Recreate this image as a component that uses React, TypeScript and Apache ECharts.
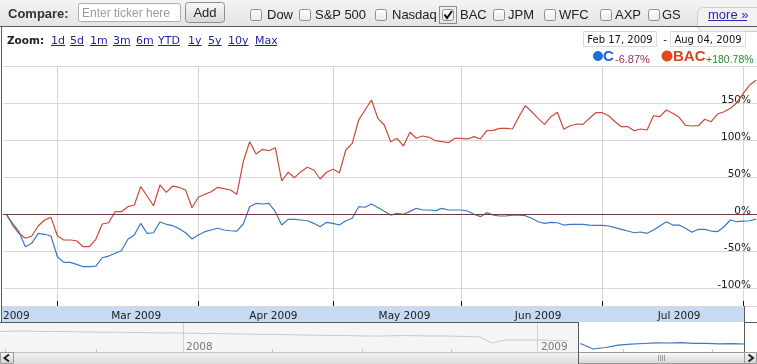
import React, { useEffect, useRef } from 'react';
import * as echarts from 'echarts';

// Trading days shown (Feb 17, 2009 – Aug 04, 2009)
const dates = [
  '2009-02-17', '2009-02-18', '2009-02-19', '2009-02-20', '2009-02-23', '2009-02-24', '2009-02-25', '2009-02-26', '2009-02-27',
  '2009-03-02', '2009-03-03', '2009-03-04', '2009-03-05', '2009-03-06', '2009-03-09', '2009-03-10', '2009-03-11', '2009-03-12',
  '2009-03-13', '2009-03-16', '2009-03-17', '2009-03-18', '2009-03-19', '2009-03-20', '2009-03-23', '2009-03-24', '2009-03-25',
  '2009-03-26', '2009-03-27', '2009-03-30', '2009-03-31',
  '2009-04-01', '2009-04-02', '2009-04-03', '2009-04-06', '2009-04-07', '2009-04-08', '2009-04-09', '2009-04-13', '2009-04-14',
  '2009-04-15', '2009-04-16', '2009-04-17', '2009-04-20', '2009-04-21', '2009-04-22', '2009-04-23', '2009-04-24', '2009-04-27',
  '2009-04-28', '2009-04-29', '2009-04-30',
  '2009-05-01', '2009-05-04', '2009-05-05', '2009-05-06', '2009-05-07', '2009-05-08', '2009-05-11', '2009-05-12', '2009-05-13',
  '2009-05-14', '2009-05-15', '2009-05-18', '2009-05-19', '2009-05-20', '2009-05-21', '2009-05-22', '2009-05-26', '2009-05-27',
  '2009-05-28', '2009-05-29',
  '2009-06-01', '2009-06-02', '2009-06-03', '2009-06-04', '2009-06-05', '2009-06-08', '2009-06-09', '2009-06-10', '2009-06-11',
  '2009-06-12', '2009-06-15', '2009-06-16', '2009-06-17', '2009-06-18', '2009-06-19', '2009-06-22', '2009-06-23', '2009-06-24',
  '2009-06-25', '2009-06-26', '2009-06-29', '2009-06-30',
  '2009-07-01', '2009-07-02', '2009-07-06', '2009-07-07', '2009-07-08', '2009-07-09', '2009-07-10', '2009-07-13', '2009-07-14',
  '2009-07-15', '2009-07-16', '2009-07-17', '2009-07-20', '2009-07-21', '2009-07-22', '2009-07-23', '2009-07-24', '2009-07-27',
  '2009-07-28', '2009-07-29', '2009-07-30', '2009-07-31',
  '2009-08-03', '2009-08-04',
];

// BAC % change since Feb 17, 2009
const bacPct = [
  0, -14.9, -26.1, -32.8, -29.7, -16.2, -8.1, -4.5, -29.3, -35.1,
  -35.1, -36.1, -44.2, -44.2, -34.2, -13.5, -11.8, 3.1, 3.1, 9.9,
  12.2, 36.9, 24.3, 11.2, 39.2, 29.3, 37.8, 36.1, 32.4, 8.5,
  22.6, 26.6, 30.1, 36.1, 34.2, 32.4, 26.6, 70.7, 97.7, 81.1,
  87.4, 85.5, 89.6, 44.6, 56.4, 49.1, 57.2, 63.1, 59.5, 47.3,
  56.4, 60.4, 55.8, 86.5, 95.5, 127.0, 140.5, 154.1, 129.3, 120.3,
  97.7, 102.3, 91.9, 110.4, 102.3, 105.4, 103.6, 99.1, 97.7, 96.4,
  102.3, 102.3, 101.4, 104.5, 101.4, 112.6, 113.1, 115.8, 115.8, 114.9,
  131.5, 146.4, 138.2, 129.3, 121.2, 131.5, 137.4, 114.5, 119.3, 121.6,
  121.2, 129.3, 136.9, 136.9, 132.8, 124.7, 118.0, 118.0, 112.6, 114.9,
  113.5, 132.8, 131.5, 140.5, 136.1, 130.7, 119.9, 118.9, 119.3, 128.0,
  124.7, 135.1, 138.2, 142.8, 150.4, 163.1, 174.3, 180.78,
];

// C % change since Feb 17, 2009
const cPct = [
  0, -12.6, -23.9, -44.2, -39.6, -26.1, -27.4, -29.7, -57.7, -65.3,
  -65.3, -68.0, -71.2, -71.2, -70.3, -59.1, -56.8, -53.1, -49.6, -34.2,
  -28.4, -12.6, -26.1, -25.3, -10.8, -13.9, -15.8, -19.9, -25.3, -33.8,
  -28.4, -23.9, -21.6, -19.3, -21.6, -22.6, -23.0, -13.5, 9.9, 14.5,
  13.5, 14.5, 3.1, -14.9, -7.2, -7.2, -8.1, -9.1, -12.6, -17.2,
  -11.2, -12.6, -14.9, -9.1, -5.8, 9.9, 9.1, 13.5, 8.8, 3.6,
  -1.4, 0.9, -0.4, 3.6, 7.7, 5.4, 5.4, 4.5, 7.7, 5.4,
  5.4, 5.4, 4.1, -0.4, -3.6, 1.8, -1.4, -2.7, -2.7, -1.4,
  -1.4, -2.3, -5.8, -10.4, -12.6, -11.2, -11.8, -14.9, -13.9, -13.9,
  -13.9, -14.9, -15.3, -15.3, -16.2, -18.5, -20.7, -23.0, -25.3, -24.3,
  -26.1, -21.6, -16.2, -10.4, -14.9, -14.9, -19.3, -24.7, -20.7, -20.7,
  -23.0, -23.9, -17.2, -8.1, -10.4, -9.5, -9.1, -6.87,
];

// Month labels (drawn inside the blue band), positioned in trading-day index units
const monthLabels = ['2009', 'Mar 2009', 'Apr 2009', 'May 2009', 'Jun 2009', 'Jul 2009'];
const monthLabelIdx = [1.6, 20.3, 41.7, 62.15, 83.0, 105.0];

const compareTickers = ['Dow', 'S&P 500', 'Nasdaq', 'BAC', 'JPM', 'WFC', 'AXP', 'GS'];
const checkedTicker = 'BAC';
const zoomLinks = ['1d', '5d', '1m', '3m', '6m', 'YTD', '1y', '5y', '10y', 'Max'];
const rangeStart = 'Feb 17, 2009';
const rangeEnd = 'Aug 04, 2009';
const legendItems = [
  { name: 'C', change: '-6.87%' },
  { name: 'BAC', change: '+180.78%' },
];

// Navigator thumbnail (long history of C, relative units)
const navHistory = [
  20.5, 20.8, 21, 20.6, 20.4, 20.5, 20.2, 20, 19.8, 19.9,
  19.6, 19.5, 19.3, 19.0, 19.2, 18.8, 18.5, 18.6, 18.2, 18.0,
  17.8, 17.6, 17.5, 17.3, 17.0, 16.8, 16.6, 16.5, 16.3, 16.0,
  16.0, 16.2, 16.4, 16.3, 16.0, 16.1, 15.8, 15.5, 15.0, 9,
  12, 12, 12, 12, 11.5, 11,
];
const navWindow = [8.5, 3, 4.5, 6.8, 7.8, 8.5, 9.2, 9.0, 9.3, 8.7, 8.6, 8.2, 8.3, 8.0];
const navYears = ['2008', '2009'];

const SANS = '"Liberation Sans", Arial, sans-serif';
const VERD = '"DejaVu Sans", Verdana, sans-serif';
const RED = '#cc4a36';
const BLUE = '#3a78c2';

export default function App() {
  const ref = useRef<HTMLDivElement>(null);

  useEffect(() => {
    const el = ref.current;
    if (!el) return;
    const chart = echarts.init(el, null, { renderer: 'svg' });

    const monthEnds = dates
      .map((d, i) => (i + 1 < dates.length && d.slice(5, 7) !== dates[i + 1].slice(5, 7) ? i : -1))
      .filter((i) => i >= 0);

    const g: any[] = [];
    const rect = (x: number, y: number, w: number, h: number, style: any, z = 1, r: any = 0) =>
      g.push({ type: 'rect', shape: { x, y, width: w, height: h, r }, style, z, silent: true });
    const text = (x: number, y: number, t: string, style: any, z = 8) =>
      g.push({
        type: 'text', x, y, z, silent: true,
        style: { text: t, textVerticalAlign: 'middle', verticalAlign: 'middle', ...style },
      });
    const line = (x1: number, y1: number, x2: number, y2: number, stroke: string, lw = 1, z = 8, dash?: number[]) =>
      g.push({ type: 'line', shape: { x1, y1, x2, y2 }, style: { stroke, lineWidth: lw, lineDash: dash }, z, silent: true });
    const grad = (a: string, b: string) =>
      new echarts.graphic.LinearGradient(0, 0, 0, 1, [{ offset: 0, color: a }, { offset: 1, color: b }]);

    // toolbar
    rect(0, 0, 757, 26, { fill: grad('#f4f4f4', '#e4e4e4') }, 0);
    text(8, 13.5, 'Compare:', { fill: '#333', fontFamily: SANS, fontSize: 13, fontWeight: 'bold' });
    rect(78.5, 3.5, 102, 18, { fill: '#fff', stroke: '#a7afba', lineWidth: 1 }, 2, 2);
    text(82, 12.5, 'Enter ticker here', { fill: '#9b9b9b', fontFamily: SANS, fontSize: 12 });
    rect(185.5, 2.5, 39, 20, { fill: grad('#f8f8f8', '#d8d8d8'), stroke: '#8d8d8d', lineWidth: 1 }, 2, 3);
    text(205, 12.5, 'Add', { fill: '#222', fontFamily: SANS, fontSize: 13, textAlign: 'center', align: 'center' });
    const boxX = [250, 299, 375, 442, 493, 544, 600, 648];
    const labX = [267, 315, 392, 460, 508, 559, 615, 662];
    compareTickers.forEach((t, i) => {
      rect(boxX[i] + 0.5, 9.5, 11, 11, { fill: grad('#ffffff', '#e9e9e9'), stroke: '#8f8f8f', lineWidth: 1 }, 2, 2);
      text(labX[i], 14.5, t, { fill: '#222', fontFamily: SANS, fontSize: 13 });
      if (t === checkedTicker) {
        g.push({ type: 'polyline', shape: { points: [[boxX[i] + 2.5, 14.5], [boxX[i] + 5, 18], [boxX[i] + 10, 11]] },
          style: { stroke: '#111', lineWidth: 2, fill: null }, z: 8, silent: true });
        rect(boxX[i] - 2.5, 6.5, 17, 17, { fill: null, stroke: '#333', lineWidth: 1, lineDash: [1, 1] }, 8);
      }
    });
    rect(697.5, 7.5, 70, 24, { fill: '#f2f2f2', stroke: '#cfcfcf', lineWidth: 1 }, 1, 6);
    text(708, 14, 'more »', { fill: '#2a2ab0', fontFamily: SANS, fontSize: 13 });
    line(708, 20.5, 747, 20.5, '#2a2ab0');

    // chart box
    rect(1, 27, 756, 295, { fill: '#fff' }, 0);
    line(0, 26.5, 757, 26.5, '#5a5a5a', 1, 9);
    line(1.5, 26, 1.5, 322, '#5a5a5a', 1, 9);

    // zoom links
    text(7, 40, 'Zoom:', { fill: '#222', fontFamily: VERD, fontSize: 10.5, fontWeight: 'bold' });
    const zx = [51, 70, 90, 113, 136, 158, 188, 208, 228, 255];
    const zw = [14, 14, 17.5, 17.5, 17.5, 22, 13.5, 13.5, 20.5, 22];
    zoomLinks.forEach((t, i) => {
      text(zx[i], 40, t, { fill: '#1f1fa3', fontFamily: VERD, fontSize: 11 });
      line(zx[i], 45.5, zx[i] + zw[i], 45.5, '#1f1fa3');
    });

    // date range
    rect(583.5, 31.5, 73, 15, { fill: '#fff', stroke: '#dadada', lineWidth: 1 }, 2);
    text(620, 39, rangeStart, { fill: '#111', fontFamily: VERD, fontSize: 10, textAlign: 'center', align: 'center' });
    text(665, 39, '-', { fill: '#111', fontFamily: VERD, fontSize: 10, textAlign: 'center', align: 'center' });
    rect(670.5, 31.5, 75, 15, { fill: '#fff', stroke: '#dadada', lineWidth: 1 }, 2);
    text(708, 39, rangeEnd, { fill: '#111', fontFamily: VERD, fontSize: 10, textAlign: 'center', align: 'center' });

    // legend
    g.push({ type: 'circle', shape: { cx: 598, cy: 56, r: 5 }, style: { fill: '#1c6fd8' }, z: 8, silent: true });
    text(603, 55, legendItems[0].name, { fill: '#1a62cc', fontFamily: SANS, fontSize: 15, fontWeight: 'bold' });
    text(615, 58.5, legendItems[0].change, { fill: '#993366', fontFamily: SANS, fontSize: 11 });
    g.push({ type: 'circle', shape: { cx: 667, cy: 56, r: 5.5 }, style: { fill: '#e04a1e' }, z: 8, silent: true });
    text(673, 55, legendItems[1].name, { fill: '#d9441b', fontFamily: SANS, fontSize: 15, fontWeight: 'bold' });
    text(706, 58.5, legendItems[1].change, { fill: '#2d8a2d', fontFamily: SANS, fontSize: 10.5 });

    // x-axis band
    rect(2, 306, 742, 16, { fill: '#c6daf2' }, 1);

    // navigator
    rect(0, 323, 578, 29, { fill: '#f5f5f5' }, 0);
    rect(578, 323, 166, 29, { fill: '#ffffff' }, 0);
    line(183.5, 323, 183.5, 352, '#d2d2d2', 1, 1);
    line(537.5, 323, 537.5, 352, '#d2d2d2', 1, 1);
    text(186, 346, navYears[0], { fill: '#7a7a7a', fontFamily: VERD, fontSize: 10.5 }, 3);
    text(541, 346, navYears[1], { fill: '#7a7a7a', fontFamily: VERD, fontSize: 10.5 }, 3);
    [5, 96, 272, 362, 451, 547, 623, 712].forEach((x) => line(x + 0.5, 349, x + 0.5, 352, '#c8c8c8', 1, 1));
    // scrollbar
    rect(0, 352, 757, 12, { fill: grad('#f3f3f3', '#dcdcdc') }, 1);
    line(0, 352.5, 757, 352.5, '#c2c2c2', 1, 2);
    rect(0.5, 352.5, 13, 11, { fill: grad('#f7f7f7', '#d5d5d5'), stroke: '#9a9a9a', lineWidth: 1 }, 3);
    g.push({ type: 'polyline', shape: { points: [[9, 354.5], [4.5, 358], [9, 361.5]] },
      style: { stroke: '#222', lineWidth: 2, fill: null }, z: 4, silent: true });
    rect(578.5, 352.5, 166, 11, { fill: grad('#fafafa', '#d6d6d6'), stroke: '#9a9a9a', lineWidth: 1 }, 3);
    [658, 660, 662, 664].forEach((x) => line(x + 0.5, 355, x + 0.5, 361, '#9a9a9a', 1, 4));
    rect(744.5, 352.5, 12, 11, { fill: grad('#f7f7f7', '#d5d5d5'), stroke: '#9a9a9a', lineWidth: 1 }, 3);
    g.push({ type: 'polyline', shape: { points: [[748.5, 354.5], [753, 358], [748.5, 361.5]] },
      style: { stroke: '#222', lineWidth: 2, fill: null }, z: 4, silent: true });
    // frame lines
    line(0, 322.5, 578, 322.5, '#5a5a5a', 1, 9);
    line(744, 322.5, 757, 322.5, '#5a5a5a', 1, 9);
    line(578.5, 322, 578.5, 364, '#5a5a5a', 1, 9);
    line(744.5, 306, 744.5, 352, '#5a5a5a', 1, 9);

    const option: any = {
      animation: false,
      textStyle: { fontFamily: VERD },
      grid: [
        { left: 1, right: 0, top: 66, height: 240 },
        { left: 0, right: 0, top: 323, height: 29 },
      ],
      xAxis: [
        {
          type: 'value', gridIndex: 0, min: -0.5, max: 117.15, z: 3, position: 'bottom',
          axisLine: { show: false, onZero: false },
          axisTick: { show: true, inside: true, length: 5, lineStyle: { color: '#111' }, customValues: monthEnds },
          splitLine: { show: true, lineStyle: { color: '#d4d4d4', width: 1 } },
          axisLabel: {
            customValues: monthLabelIdx,
            formatter: (v: number) => {
              const j = monthLabelIdx.findIndex((p) => Math.abs(p - v) < 0.01);
              return j >= 0 ? monthLabels[j] : '';
            },
            fontFamily: VERD, fontSize: 10.5, color: '#222', margin: 4, lineHeight: 10,
          },
        },
        { type: 'value', gridIndex: 1, min: 0, max: 60, show: false, axisLine: { onZero: false } },
      ],
      yAxis: [
        {
          type: 'value', gridIndex: 0, position: 'right', min: -124.3, max: 200,
          minInterval: 50, maxInterval: 50, z: 3,
          axisLine: { show: false, onZero: false }, axisTick: { show: false },
          splitLine: { show: true, lineStyle: { color: '#d9d9d9', width: 1 } },
          axisLabel: {
            inside: true, margin: 6, verticalAlign: 'bottom', lineHeight: 8,
            fontFamily: VERD, fontSize: 10.5, color: '#222',
            showMinLabel: false, showMaxLabel: false,
            formatter: (v: number) => (v > 150 || v < -100 ? '' : `${v}%`),
          },
        },
        { type: 'value', gridIndex: 1, min: 0, max: 29, show: false },
      ],
      series: [
        {
          name: 'BAC', type: 'line', xAxisIndex: 0, yAxisIndex: 0, z: 4,
          data: bacPct.map((v, i) => [i, v]),
          showSymbol: false, symbol: 'none',
          lineStyle: { color: RED, width: 1.2 },
          markLine: {
            silent: true, symbol: 'none', label: { show: false },
            lineStyle: { color: '#6b3d3d', width: 1, type: 'solid' },
            data: [{ yAxis: 0 }],
          },
        },
        {
          name: 'C', type: 'line', xAxisIndex: 0, yAxisIndex: 0, z: 4,
          data: cPct.map((v, i) => [i, v]),
          showSymbol: false, symbol: 'none',
          lineStyle: { color: BLUE, width: 1.2 },
        },
        {
          name: 'navHistory', type: 'line', xAxisIndex: 1, yAxisIndex: 1, z: 4,
          data: navHistory.map((v, i) => [i, v]),
          showSymbol: false, symbol: 'none',
          lineStyle: { color: '#c9c9c9', width: 1 },
        },
        {
          name: 'navWindow', type: 'line', xAxisIndex: 1, yAxisIndex: 1, z: 4,
          data: navWindow.map((v, i) => [navHistory.length + i, v]),
          showSymbol: false, symbol: 'none',
          lineStyle: { color: BLUE, width: 1.2 },
        },
      ],
      graphic: { elements: g },
    };

    chart.setOption(option);
    return () => chart.dispose();
  }, []);

  return <div ref={ref} style={{ position: 'fixed', left: 0, top: 0, width: 757, height: 364 }} />;
}
